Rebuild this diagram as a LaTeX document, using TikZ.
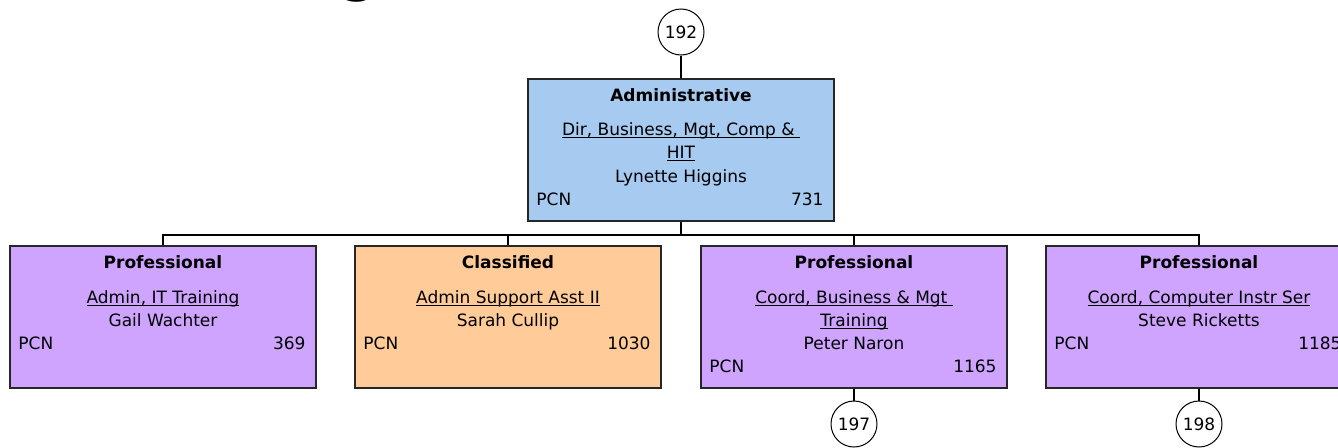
\documentclass[tikz,border=0pt]{standalone}
\usepackage{fontspec}
\setmainfont{DejaVu Sans}
\usetikzlibrary{positioning}

\definecolor{admblue}{RGB}{166,202,240}
\definecolor{profpurple}{RGB}{206,164,255}
\definecolor{clspeach}{RGB}{255,204,153}
\newcommand{\undl}[1]{\setbox0\hbox{#1}\rlap{\rule[-2.6pt]{\wd0}{1pt}}\box0}

\begin{document}
\begin{tikzpicture}[
  x=1pt, y=-1pt,
  font=\fontsize{17}{23}\selectfont,
  card/.style={draw=black!85, line width=1.5pt, minimum width=306pt,
               minimum height=142pt, inner sep=0pt},
  admcard/.style={card, fill=admblue},
  profcard/.style={card, fill=profpurple},
  clscard/.style={card, fill=clspeach},
  txt/.style={anchor=base, inner sep=0pt},
  pcn/.style={anchor=base west, inner sep=0pt},
  num/.style={anchor=base east, inner sep=0pt},
  bubble/.style={circle, draw, line width=1pt, fill=white, minimum size=46pt,
                 inner sep=0pt, font=\fontsize{17}{20}\selectfont},
  link/.style={line width=1.5pt}
]
\useasboundingbox (0,0) rectangle (1338,447);

% cut-off title above the chart
\node[anchor=south, inner sep=0pt, font=\bfseries\fontsize{50}{54}\selectfont] (ttl) at (359,2.5) {g};

% head of the unit
\node[bubble] (c192) at (681,32) {192};
\node[admcard] (n731) at (681,150) {};
\node[txt] at ([yshift=-23pt]n731.north) {\textbf{Administrative}};
\node[txt] at ([yshift=-57pt]n731.north) {\undl{Dir, Business, Mgt, Comp \& }};
\node[txt] at ([yshift=-80pt]n731.north) {\undl{HIT}};
\node[txt] at ([yshift=-104pt]n731.north) {Lynette Higgins};
\node[pcn] at ([xshift=9pt,yshift=-127pt]n731.north west) {PCN};
\node[num] at ([xshift=-11pt,yshift=-127pt]n731.north east) {731};

% staff
\node[profcard] (n369) at (163,317) {};
\node[txt] at ([yshift=-23pt]n369.north) {\textbf{Professional}};
\node[txt] at ([yshift=-58pt]n369.north) {\undl{Admin, IT Training}};
\node[txt] at ([yshift=-81pt]n369.north) {Gail Wachter};
\node[pcn] at ([xshift=9pt,yshift=-104pt]n369.north west) {PCN};
\node[num] at ([xshift=-11pt,yshift=-104pt]n369.north east) {369};

\node[clscard] (n1030) at (508,317) {};
\node[txt] at ([yshift=-23pt]n1030.north) {\textbf{Classified}};
\node[txt] at ([yshift=-58pt]n1030.north) {\undl{Admin Support Asst II}};
\node[txt] at ([yshift=-81pt]n1030.north) {Sarah Cullip};
\node[pcn] at ([xshift=9pt,yshift=-104pt]n1030.north west) {PCN};
\node[num] at ([xshift=-11pt,yshift=-104pt]n1030.north east) {1030};

\node[profcard] (n1165) at (854,317) {};
\node[txt] at ([yshift=-23pt]n1165.north) {\textbf{Professional}};
\node[txt] at ([yshift=-58pt]n1165.north) {\undl{Coord, Business \& Mgt }};
\node[txt] at ([yshift=-81pt]n1165.north) {\undl{Training}};
\node[txt] at ([yshift=-104pt]n1165.north) {Peter Naron};
\node[pcn] at ([xshift=9pt,yshift=-127pt]n1165.north west) {PCN};
\node[num] at ([xshift=-11pt,yshift=-127pt]n1165.north east) {1165};

\node[profcard] (n1185) at (1199,317) {};
\node[txt] at ([yshift=-23pt]n1185.north) {\textbf{Professional}};
\node[txt] at ([yshift=-58pt]n1185.north) {\undl{Coord, Computer Instr Ser}};
\node[txt] at ([yshift=-81pt]n1185.north) {Steve Ricketts};
\node[pcn] at ([xshift=9pt,yshift=-104pt]n1185.north west) {PCN};
\node[num] at ([xshift=-11pt,yshift=-104pt]n1185.north east) {1185};

\node[bubble] (c197) at (854,424) {197};
\node[bubble] (c198) at (1199,424) {198};

\draw[link] (c192) -- (n731);
\draw[link] (n731.south) -- ++(0,13) -| (n369.north);
\draw[link] (n731.south) -- ++(0,13) -| (n1030.north);
\draw[link] (n731.south) -- ++(0,13) -| (n1165.north);
\draw[link] (n731.south) -- ++(0,13) -| (n1185.north);
\draw[link] (n1165) -- (c197);
\draw[link] (n1185) -- (c198);
\end{tikzpicture}
\end{document}
